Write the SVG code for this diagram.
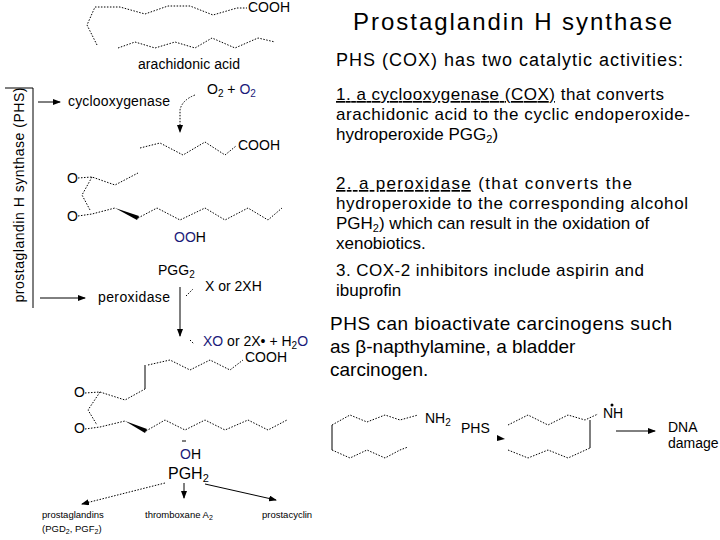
<svg xmlns="http://www.w3.org/2000/svg" width="720" height="540" viewBox="0 0 720 540">
<defs>
<style>
text{font-family:"Liberation Sans",Arial,sans-serif;fill:#000}
.c{fill:none;stroke:#000;stroke-width:1}
.d{fill:none;stroke:#000;stroke-width:1;stroke-dasharray:1.5 1.5}
.s{font-size:14px}
.t{font-size:9.5px}
.r{font-size:17px}
.b{fill:#1a1a7a}
</style>
<marker id="a" markerWidth="8" markerHeight="6" refX="7" refY="3" orient="auto"><path d="M0,0L8,3L0,6z" fill="#000"/></marker>
</defs>
<rect width="720" height="540" fill="#fff"/>
<g id="left-chem">
<polyline class="d" points="97,45 87,25 95,7 120,7 145,14 168,6 190,6 213,15 237,8 247,8"/>
<polyline class="d" points="118,48 135,42 155,48 175,42 195,48 212,38 235,48 258,38 275,42"/>
<text x="248" y="12" class="s">COOH</text>
<text x="138" y="69" class="s" textLength="102">arachidonic acid</text>
<text x="207" y="94" class="s">O<tspan font-size="10" dy="3">2</tspan><tspan dy="-3"> + </tspan><tspan class="b">O</tspan><tspan class="b" font-size="10" dy="3">2</tspan></text>
<path class="d" d="M195,95 Q182,100 180,110 L180,132" marker-end="url(#a)"/>
<polyline class="d" points="140,148 160,143 183,155 205,142 225,155 236,146"/>
<text x="238" y="150" class="s">COOH</text>
<text x="67" y="183" class="s">O</text>
<text x="67" y="221" class="s">O</text>
<polyline class="d" points="78,178 92,177 115,185 138,173"/>
<polyline class="d" points="92,177 82,195 90,210"/>
<polyline class="d" points="78,216 92,214 115,208"/>
<path d="M115,208 L137,220 L139,216z" fill="#000"/>
<polyline class="d" points="138,218 157,208 180,220 205,208 225,220 248,208 268,220 282,208"/>
<text x="174" y="242" class="s"><tspan class="b">OO</tspan>H</text>
<text x="158" y="275" class="s">PGG<tspan font-size="10" dy="3">2</tspan></text>
<text x="205" y="291" class="s">X or 2XH</text>
<line class="c" x1="180" y1="287" x2="180" y2="336" marker-end="url(#a)"/>
<line class="d" x1="186" y1="296" x2="193" y2="289"/>
<line class="d" x1="190" y1="340" x2="194" y2="344"/>
<text x="203" y="346" class="s"><tspan class="b">XO</tspan> or 2X• + H<tspan font-size="10" dy="3">2</tspan><tspan class="b" dy="-3">O</tspan></text>
<polyline class="d" points="148,365 170,360 190,370 210,360 230,370 243,360"/>
<line class="c" x1="145" y1="365" x2="145" y2="389"/>
<text x="245" y="362" class="s">COOH</text>
<text x="74" y="397" class="s">O</text>
<text x="74" y="433" class="s">O</text>
<polyline class="d" points="85,393 100,392 125,400 145,389"/>
<polyline class="d" points="100,392 88,410 97,425"/>
<polyline class="d" points="85,429 100,427 125,421"/>
<path d="M125,421 L145,433 L147,429z" fill="#000"/>
<polyline class="d" points="146,431 165,420 185,430 205,420 225,430 248,420 268,430 287,420"/>
<line class="c" x1="182" y1="441" x2="186" y2="441"/>
<text x="180" y="459" class="s"><tspan class="b">O</tspan>H</text>
<text x="168" y="479" font-size="16">PGH<tspan font-size="11" dy="3">2</tspan></text>
<text x="42" y="518" class="t">prostaglandins</text>
<text x="42" y="532" class="t">(PGD<tspan font-size="7" dy="2">2</tspan><tspan dy="-2">, PGF</tspan><tspan font-size="7" dy="2">2</tspan><tspan dy="-2">)</tspan></text>
<text x="145" y="518" class="t">thromboxane A<tspan font-size="7" dy="2">2</tspan></text>
<text x="262" y="518" class="t">prostacyclin</text>
</g>
<g id="enzymes">
<text transform="translate(24,195) rotate(-90)" text-anchor="middle" class="s" textLength="215">prostaglandin H synthase (PHS)</text>
<polyline class="c" points="5,88 33,88 33,308"/>
<line class="c" x1="38" y1="102" x2="60" y2="102" marker-end="url(#a)"/>
<text x="68" y="106" class="s" textLength="102">cyclooxygenase</text>
<line class="c" x1="40" y1="298" x2="85" y2="298" marker-end="url(#a)"/>
<text x="98" y="302" class="s" textLength="72">peroxidase</text>
</g>
<g id="connectors">
<line class="d" x1="165" y1="483" x2="82" y2="504" marker-end="url(#a)"/>
<line class="c" x1="184" y1="483" x2="184" y2="498" marker-end="url(#a)"/>
<line class="c" x1="205" y1="484" x2="276" y2="500" marker-end="url(#a)"/>
</g>
<g id="right-text">
<text x="353" y="30" font-size="24" textLength="319">Prostaglandin H synthase</text>
<text x="336" y="66" font-size="18" textLength="347">PHS (COX) has two catalytic activities:</text>
<text x="336" y="100" class="r" textLength="328"><tspan text-decoration="underline">1. a cyclooxygenase (COX)</tspan> that converts</text>
<text x="336" y="120" class="r" textLength="354">arachidonic acid to the cyclic endoperoxide-</text>
<text x="336" y="140" class="r">hydroperoxide PGG<tspan font-size="11" dy="3">2</tspan><tspan dy="-3">)</tspan></text>
<text x="336" y="189" class="r" textLength="296"><tspan text-decoration="underline">2. a peroxidase</tspan> (that converts the</text>
<text x="336" y="209" class="r" textLength="352">hydroperoxide  to the corresponding alcohol</text>
<text x="336" y="229" class="r">PGH<tspan font-size="11" dy="3">2</tspan><tspan dy="-3">) which can result in the oxidation of</tspan></text>
<text x="336" y="249" class="r">xenobiotics.</text>
<text x="336" y="276" class="r" textLength="308">3. COX-2 inhibitors include aspirin and</text>
<text x="336" y="296" class="r">ibuprofin</text>
<text x="330" y="330" font-size="19" textLength="342">PHS can bioactivate carcinogens such</text>
<text x="330" y="353" font-size="19">as β-napthylamine, a bladder</text>
<text x="330" y="376" font-size="19">carcinogen.</text>
</g>
<g id="bottom-chem">
<polyline class="d" points="332,425 350,415 367,422 385,415 400,420 418,415"/>
<polyline class="c" points="332,425 332,450"/>
<polyline class="d" points="332,450 350,458 367,450 385,458 400,450 408,447"/>
<text x="425" y="423" class="s">NH<tspan font-size="10" dy="3">2</tspan></text>
<text x="461" y="433" class="s">PHS</text>
<path d="M497,435 L505,439 L497,441z" fill="#000"/>
<polyline class="d" points="508,425 528,415 548,425 568,415 585,420 598,414"/>
<polyline class="d" points="508,450 528,458 548,450 568,458 590,448"/>
<line class="c" x1="590" y1="420" x2="590" y2="448"/>
<text x="603" y="418" class="s">NH</text>
<circle cx="612" cy="405" r="1.5" fill="#000"/>
<line class="c" x1="616" y1="431" x2="655" y2="431" marker-end="url(#a)"/>
<text x="668" y="432" class="s">DNA</text>
<text x="668" y="448" class="s">damage</text>
</g>
</svg>
